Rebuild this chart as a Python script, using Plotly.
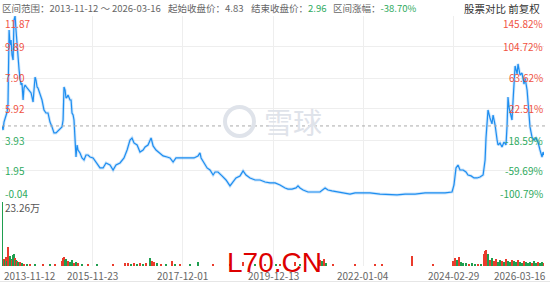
import plotly.graph_objects as go

# ---- data ----
days = [0, 6, 11, 17, 22, 28, 33, 39, 44, 50, 55, 61, 66, 72, 77, 83, 88, 94, 99, 105, 110, 116, 121, 127,
        138, 149, 160, 165, 171, 176, 182, 187, 193, 198, 209, 220, 231, 242, 253, 264, 275, 286, 297, 308,
        319, 330, 336, 341, 347, 352, 358, 363, 374, 380, 385, 391, 396, 402, 407, 413, 418, 429, 440, 451,
        462, 473, 484, 501, 517, 539, 556, 572, 594, 611, 627, 649, 671, 688, 704, 715, 726, 743, 759, 776,
        787, 803, 820, 831, 847, 869, 886, 908, 924, 941, 957, 979, 1001, 1018, 1034, 1056, 1078, 1089, 1095,
        1111, 1128, 1144, 1161, 1172, 1188, 1210, 1232, 1254, 1271, 1287, 1309, 1326, 1342, 1364, 1392, 1419,
        1447, 1474, 1502, 1529, 1557, 1573, 1595, 1617, 1628, 1639, 1656, 1683, 1722, 1749, 1777, 1793, 1815,
        1859, 1887, 1914, 1942, 1969, 2024, 2079, 2134, 2173, 2217, 2272, 2327, 2382, 2437, 2475, 2486, 2497,
        2508, 2519, 2536, 2552, 2563, 2580, 2596, 2613, 2629, 2646, 2657, 2662, 2668, 2673, 2684, 2695, 2701,
        2712, 2723, 2728, 2739, 2750, 2761, 2772, 2778, 2783, 2789, 2800, 2805, 2811, 2816, 2822, 2833, 2838,
        2849, 2860, 2871, 2877, 2888, 2893, 2899, 2904, 2915, 2926, 2937, 2948, 2959, 2970, 2976, 2981]
close = [4.83, 4.57, 5.08, 5.34, 5.60, 5.72, 6.24, 10.97, 10.01, 10.33, 9.37, 9.05, 11.61, 11.87, 10.97, 10.01,
         8.73, 8.41, 7.90, 7.45, 7.58, 6.49, 7.26, 7.45, 7.26, 7.13, 6.94, 6.68, 6.36, 7.13, 7.96, 7.77, 7.32,
         7.26, 6.81, 6.49, 5.85, 5.66, 5.66, 5.08, 4.77, 4.38, 4.38, 4.51, 4.70, 4.77, 5.21, 7.32, 7.13, 6.62,
         6.68, 6.81, 6.49, 6.49, 5.66, 5.53, 5.21, 3.93, 2.84, 3.61, 3.29, 3.10, 2.78, 2.65, 2.97, 2.97, 2.84,
         2.78, 2.52, 2.14, 2.14, 2.46, 2.33, 2.01, 2.33, 2.46, 2.78, 3.29, 3.93, 4.06, 3.74, 3.61, 3.16, 3.29,
         3.48, 3.61, 4.06, 3.55, 3.29, 3.10, 2.91, 2.84, 2.78, 2.52, 2.78, 2.78, 2.78, 2.78, 2.78, 2.78, 2.91,
         3.10, 2.78, 2.46, 2.14, 2.01, 1.69, 1.88, 1.88, 1.63, 1.37, 0.99, 1.24, 1.50, 1.63, 1.95, 1.69, 1.50,
         1.37, 1.37, 1.24, 1.18, 1.18, 1.05, 0.86, 0.79, 0.79, 0.86, 0.99, 0.86, 0.73, 0.60, 0.60, 0.60, 0.86,
         0.73, 0.67, 0.60, 0.54, 0.47, 0.54, 0.54, 0.54, 0.47, 0.41, 0.41, 0.47, 0.47, 0.54, 0.54, 0.54, 0.60,
         1.05, 2.14, 2.33, 2.01, 2.01, 1.88, 1.69, 1.63, 1.50, 1.50, 1.56, 1.69, 2.65, 4.06, 4.89, 5.85, 5.34,
         4.96, 5.53, 4.89, 3.93, 3.61, 3.74, 3.48, 3.80, 3.61, 4.89, 6.68, 5.98, 5.53, 5.21, 6.49, 7.77, 8.67,
         8.16, 8.80, 8.09, 8.22, 7.51, 7.90, 7.13, 6.49, 5.53, 4.77, 4.12, 3.93, 4.06, 3.80, 3.29, 2.84, 3.16,
         2.96]

vol_days = [0, 11, 17, 22, 28, 33, 39, 44, 50, 55, 61, 66, 72, 77, 83, 88, 99, 110, 121, 138, 154, 182, 226,
            264, 292, 330, 336, 341, 347, 352, 363, 374, 385, 396, 407, 418, 440, 473, 523, 611, 677, 693, 710,
            726, 743, 759, 776, 792, 814, 825, 836, 853, 875, 902, 935, 952, 979, 1034, 1078, 1161, 1254, 1326,
            1392, 1447, 1507, 1529, 1612, 1639, 1749, 1760, 1771, 1782, 1821, 1942, 2052, 2090, 2255, 2371,
            2481, 2492, 2503, 2514, 2525, 2536, 2552, 2569, 2585, 2602, 2618, 2635, 2651, 2657, 2662, 2668,
            2673, 2684, 2695, 2706, 2717, 2728, 2739, 2750, 2761, 2772, 2783, 2794, 2805, 2816, 2827, 2838,
            2849, 2860, 2871, 2882, 2893, 2904, 2915, 2926, 2937, 2948, 2959, 2970, 2981]
vol = [23.26, 2.6, 2.2, 3.3, 1.8, 7.0, 3.0, 3.7, 2.6, 2.2, 4.1, 4.4, 3.0, 2.2, 1.8, 1.5, 1.5, 1.1, 0.74, 0.74,
       0.74, 0.55, 0.55, 0.55, 0.37, 1.8, 3.0, 3.3, 2.2, 2.6, 1.8, 1.5, 2.2, 1.1, 1.5, 1.1, 0.74, 0.74, 0.55,
       0.55, 1.1, 1.1, 0.74, 1.1, 0.74, 1.1, 0.74, 1.1, 3.0, 1.8, 1.5, 1.1, 0.74, 0.74, 1.8, 0.74, 0.55, 0.37,
       1.5, 0.74, 0.55, 1.5, 0.74, 0.55, 0.74, 0.37, 1.5, 0.74, 2.2, 1.8, 2.6, 1.1, 0.55, 0.55, 0.55, 0.55,
       3.7, 0.55, 1.8, 3.0, 2.2, 3.3, 1.5, 1.1, 1.1, 0.74, 1.1, 0.74, 0.74, 0.74, 4.4, 5.5, 5.9, 3.7, 4.4,
       2.2, 3.0, 1.8, 2.6, 1.5, 2.2, 1.8, 1.5, 2.6, 1.8, 1.5, 2.2, 1.8, 1.5, 2.2, 1.5, 1.1, 1.8, 1.5, 1.1,
       1.5, 1.1, 1.8, 1.1, 1.5, 1.1, 1.5, 1.1]
vol_up = [0, 1, 0, 1, 0, 1, 1, 0, 0, 1, 0, 0, 1, 0, 1, 0, 1, 0, 1, 0, 1, 0, 1, 0, 1, 1, 1, 1, 0, 0, 1, 0, 0,
          1, 0, 1, 0, 1, 0, 1, 1, 1, 0, 1, 0, 1, 0, 1, 0, 1, 1, 0, 1, 0, 1, 0, 1, 0, 0, 1, 1, 1, 0, 1, 0, 1,
          1, 0, 1, 0, 1, 0, 1, 1, 1, 1, 1, 1, 1, 1, 0, 1, 0, 0, 0, 1, 0, 0, 1, 0, 1, 1, 1, 1, 0, 1, 0, 1, 1,
          0, 0, 1, 0, 1, 0, 0, 1, 0, 0, 1, 0, 0, 1, 0, 0, 0, 1, 0, 0, 1, 0, 0, 1]

price_ticks = [11.87, 9.89, 7.90, 5.92, 3.93, 1.95, -0.04]
pct_ticks = ["145.82%", "104.72%", "63.62%", "22.51%", "-18.59%", "-59.69%", "-100.79%"]
tick_days = [0, 497, 994, 1491, 1988, 2484, 2981]
tick_labels = ["2013-11-12", "2015-11-23", "2017-12-01", "2019-12-13", "2022-01-04", "2024-02-29", "2026-03-16"]
range_text = "2013-11-12 ～ 2026-03-16"
start_close = 4.83
end_close = 2.96
pct_change_text = "-38.70%"
max_vol_label = "23.26万"

RED = "#f0533f"
GREEN = "#2eaa5e"
VRED = "#ea3b2c"
VGREEN = "#1f9e4f"
BLUE = "#1e8ef0"
GRID = "#eeeeee"
FONT = "Noto Sans CJK SC, Noto Sans, sans-serif"

W, H = 550, 283
def py(p):  # pixel-from-top -> paper y
    return (H - p) / H
def px(p):
    return p / W

XDOM = [px(2), px(544)]

fig = go.Figure()
fig.add_trace(go.Scatter(x=days, y=close, mode="lines", line=dict(color="rgba(30,142,240,0.22)", width=3),
                         hoverinfo="skip", xaxis="x", yaxis="y"))
fig.add_trace(go.Scatter(x=days, y=close, mode="lines", line=dict(color=BLUE, width=1.2),
                         xaxis="x", yaxis="y"))
fig.add_trace(go.Bar(x=vol_days, y=vol, width=5,
                     marker=dict(color=[VRED if u else VGREEN for u in vol_up], line=dict(width=0)),
                     xaxis="x2", yaxis="y2"))

annotations = []
n = len(price_ticks)
for i, (p, pc) in enumerate(zip(price_ticks, pct_ticks)):
    col = RED if p > start_close else GREEN
    if i == 0:
        ya, ys = "top", 2
    elif i == n - 1:
        ya, ys = "bottom", -1
    else:
        ya, ys = "middle", 0
    annotations.append(dict(x=px(3), y=p, xref="paper", yref="y", text=f"{p:.2f}",
                            xanchor="left", yanchor=ya, yshift=ys, showarrow=False,
                            font=dict(size=10, color=col, family=FONT)))
    annotations.append(dict(x=px(545), y=p, xref="paper", yref="y", text=pc,
                            xanchor="right", yanchor=ya, yshift=ys, showarrow=False,
                            font=dict(size=10, color=col, family=FONT)))

for i, (d, lab) in enumerate(zip(tick_days, tick_labels)):
    xa = "left" if i == 0 else ("right" if i == len(tick_days) - 1 else "center")
    xs = 4 if i == len(tick_days) - 1 else 0
    annotations.append(dict(x=d, y=py(275), xref="x2", yref="paper", text=lab, xanchor=xa, xshift=xs,
                            yanchor="middle", showarrow=False, font=dict(size=10, color="#666", family=FONT)))

annotations.append(dict(x=px(3), y=py(207), xref="paper", yref="paper", text=max_vol_label,
                        xanchor="left", yanchor="middle", showarrow=False,
                        font=dict(size=10, color="#555", family=FONT)))

hdr = [
    (0, f"区间范围：{range_text}"),
    (166, f"起始收盘价：{start_close:.2f}"),
    (249, f"结束收盘价：<span style='color:{GREEN}'>{end_close:.2f}</span>"),
    (331, f"区间涨幅：<span style='color:{GREEN}'>{pct_change_text}</span>"),
]
for x0, t in hdr:
    annotations.append(dict(x=px(x0), y=py(8.5), xref="paper", yref="paper", text=t, xanchor="left",
                            yanchor="middle", showarrow=False, font=dict(size=9.5, color="#666", family=FONT)))
annotations.append(dict(x=px(542), y=py(8.5), xref="paper", yref="paper", text="股票对比 前复权",
                        xanchor="right", yanchor="middle", showarrow=False,
                        font=dict(size=10.5, color="#333", family=FONT)))

# watermarks
annotations.append(dict(x=px(293), y=py(121), xref="paper", yref="paper", text="雪球", xanchor="center",
                        yanchor="middle", showarrow=False, font=dict(size=29, color="#dfe3ea", family=FONT)))
annotations.append(dict(x=px(274), y=py(262), xref="paper", yref="paper", text="L70.CN", xanchor="center",
                        yanchor="middle", showarrow=False,
                        font=dict(size=28, color="#dd0000", family="Liberation Sans, Arial, sans-serif")))

shapes = [
    dict(type="line", xref="paper", yref="y", x0=px(2), x1=px(546), y0=start_close, y1=start_close,
         line=dict(color="#aaaaaa", width=1, dash="dot")),
    dict(type="circle", xref="paper", yref="paper", x0=px(225), x1=px(254), y0=py(136), y1=py(107),
         line=dict(color="#dfe3ea", width=4)),
    dict(type="line", xref="paper", yref="paper", x0=0, x1=1, y0=py(281.5), y1=py(281.5),
         line=dict(color="#e6e6e6", width=1)),
]

fig.update_layout(
    width=W, height=H, margin=dict(l=0, r=0, t=0, b=0),
    paper_bgcolor="white", plot_bgcolor="white", showlegend=False, bargap=0,
    xaxis=dict(domain=XDOM, range=[0, 2981], tickvals=tick_days, showticklabels=False, showgrid=True,
               gridcolor=GRID, zeroline=False, showline=False, anchor="y", fixedrange=True),
    yaxis=dict(domain=[py(202), py(16)], range=[-0.04, 11.87], tickvals=price_ticks, showticklabels=False,
               showgrid=True, gridcolor=GRID, zeroline=False, anchor="x"),
    xaxis2=dict(domain=XDOM, range=[0, 2981], tickvals=tick_days, showticklabels=False, showgrid=True,
                gridcolor=GRID, zeroline=False, anchor="y2", matches="x"),
    yaxis2=dict(domain=[py(266), py(202)], range=[0, 23.26], showticklabels=False, showgrid=False,
                zeroline=False, anchor="x2"),
    annotations=annotations, shapes=shapes,
)
fig.write_html("out.html")
